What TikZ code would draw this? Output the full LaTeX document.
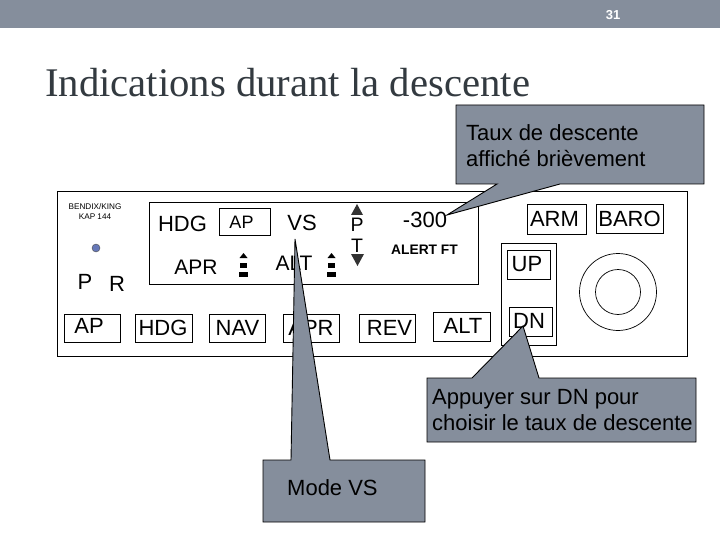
\documentclass[tikz,border=0pt]{standalone}
\usepackage{fontspec}
\setmainfont{Liberation Sans}
\newfontfamily\titlefont{Liberation Serif}
\definecolor{barcol}{HTML}{858E9C}
\definecolor{dotcol}{HTML}{6678B8}
\definecolor{titlecol}{HTML}{333A40}
\newcommand{\fsz}[1]{\fontsize{#1pt}{#1pt}\selectfont}
\tikzset{
  x=1pt,y=-1pt,
  panel/.style={draw=black,line width=0.9pt,fill=white},
  lbl/.style={inner sep=0pt,font=\fsz{22}},
  tiny/.style={inner sep=0pt,font=\fsz{8.2}},
  callout/.style={draw=black,line width=0.9pt,fill=barcol,line join=miter},
  cotext/.style={inner sep=0pt,anchor=west,align=left,font=\fontsize{22pt}{26pt}\selectfont},
  glyph/.style={fill=black!80,draw=none},
}
\newcommand{\btnbox}[5]{\node[panel,inner sep=0pt,minimum width=#3pt-#1pt,minimum height=#4pt-#2pt,anchor=north west] (#5) at (#1,#2) {};}
\begin{document}
\begin{tikzpicture}
\useasboundingbox (0,0) rectangle (720,540);
\fill[barcol] (0,0) rectangle (720,28);
\node[inner sep=0pt,text=white,font=\bfseries\fsz{13}] (pg) at (613,15) {31};
\node[inner sep=0pt,anchor=base west,text=titlecol,font=\titlefont\fsz{40.7}] (title) at (45,97) {Indications durant la descente};
% panel
\btnbox{57}{191}{687}{356}{outer}
\btnbox{149}{202}{478}{284}{disp}
\btnbox{219}{208}{270}{235}{apdisp}
\btnbox{64}{314}{120}{342}{bap}
\btnbox{135}{314}{192}{342}{bhdg}
\btnbox{209}{314}{265}{342}{bnav}
\btnbox{283}{314}{339}{342}{bapr}
\btnbox{359}{314}{415}{342}{brev}
\btnbox{433}{312}{490}{341}{balt}
\btnbox{501}{243}{556}{345}{updn}
\btnbox{507}{250}{550}{279}{bup}
\btnbox{509}{307}{552}{336}{bdn}
\btnbox{527}{204}{586}{234}{barm}
\btnbox{596}{204}{663}{233}{bbaro}
\node[draw=black,line width=0.7pt,circle,minimum size=77pt,inner sep=0pt] (knobo) at (618,292) {};
\node[draw=black,line width=0.7pt,circle,minimum size=45pt,inner sep=0pt] (knobi) at (618,292) {};
\node[fill=dotcol,draw=black!70,line width=0.4pt,circle,minimum size=8pt,inner sep=0pt] (dot) at (96,248) {};
% texts
\node[tiny,align=center,font=\fontsize{8.2pt}{10pt}\selectfont] (brand) at (95,212) {BENDIX/KING\\KAP 144};
\node[lbl] (p) at (85,282) {P};
\node[lbl] (r) at (117,284) {R};
\node[lbl,font=\fsz{18}] (tap) at (241.5,222) {AP};
\node[lbl] (thdg) at (182.5,224) {HDG};
\node[lbl] (tvs) at (302,223) {VS};
\node[lbl,font=\fsz{21}] (tapr) at (196,267) {APR};
\node[lbl,font=\fsz{21}] (talt) at (294,263) {ALT};
\node[lbl,font=\fsz{19.5}] (tp) at (357,225) {P};
\node[lbl,font=\fsz{19.5}] (tt) at (357,246) {T};
\node[lbl] (t300) at (425,220) {-300};
\node[lbl,font=\bfseries\fsz{13.8}] (talert) at (424.5,250) {ALERT FT};
\node[lbl] (lap) at (89,326) {AP};
\node[lbl] (lhdg) at (163,328) {HDG};
\node[lbl] (lnav) at (237.5,328) {NAV};
\node[lbl] (lapr) at (311,328) {APR};
\node[lbl] (lrev) at (389.5,328) {REV};
\node[lbl] (lalt) at (463,326) {ALT};
\node[lbl] (lup) at (527,264) {UP};
\node[lbl] (ldn) at (529,321) {DN};
\node[lbl] (larm) at (554.5,219) {ARM};
\node[lbl] (lbaro) at (629.5,219) {BARO};
% arrows and small glyphs
\fill[glyph] (357,204) -- (363,215) -- (351,215) -- cycle;
\fill[glyph] (351,254) -- (364,254) -- (357.5,266) -- cycle;
\foreach \gx in {243.5,331.5}{
  \fill[black] (\gx-4,258) -- (\gx+4,258) -- (\gx,253) -- cycle;
  \fill[black] (\gx-3.5,263) rectangle (\gx+3.5,268);
  \fill[black] (\gx-4.5,272) rectangle (\gx+4.5,277);
}
% callouts
\coordinate (tipa) at (447,215);
\coordinate (tipb) at (523,326);
\coordinate (tipc) at (295,239);
\draw[callout] (456,105) -- (704,105) -- (704,184) -- (560,184) -- (tipa) -- (497,184) -- (456,184) -- cycle;
\draw[callout] (427,378) -- (472,378) -- (tipb) -- (539,378) -- (696,378) -- (696,442) -- (427,442) -- cycle;
\draw[callout] (263,460) -- (291,460) -- (tipc) -- (330,460) -- (425,460) -- (425,522) -- (263,522) -- cycle;
\node[cotext] (ca) at (466,146) {Taux de descente\\affiché brièvement};
\node[cotext] (cb) at (432,410) {Appuyer sur DN pour\\choisir le taux de descente};
\node[cotext] (cc) at (287,488) {Mode VS};
\end{tikzpicture}
\end{document}
